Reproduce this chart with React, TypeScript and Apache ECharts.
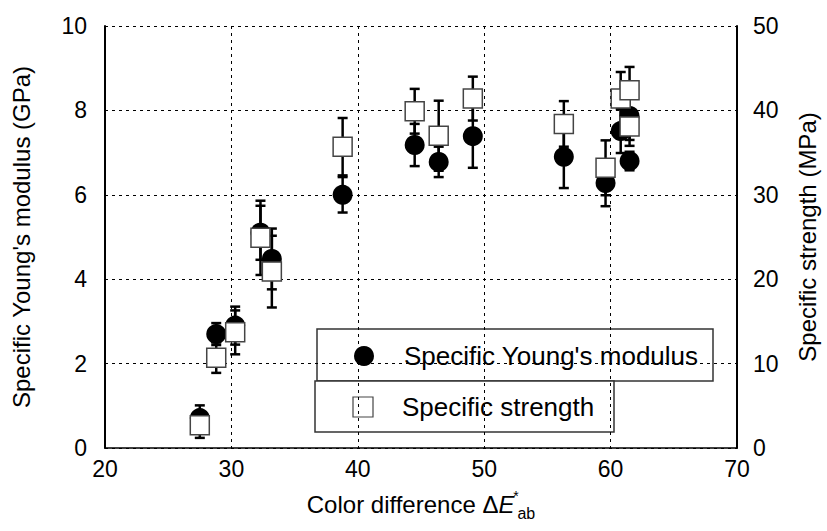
import React, { useEffect, useRef } from "react";
import * as echarts from "echarts";

// Color difference (ΔE*ab) for each measured specimen
const modulusX = [27.5, 28.8, 30.3, 32.3, 33.2, 38.8, 44.5, 46.4, 49.1, 56.3, 59.6, 60.8, 61.5, 61.5];
// Specific Young's modulus (GPa)
const modulusY = [0.71, 2.7, 2.9, 5.1, 4.48, 6.0, 7.18, 6.78, 7.39, 6.9, 6.28, 7.51, 7.87, 6.8];
const modulusErr = [0.3, 0.26, 0.45, 0.64, 0.72, 0.42, 0.5, 0.36, 0.75, 0.74, 0.55, 0.52, 0.71, 0.22];

const strengthX = [27.5, 28.8, 30.3, 32.3, 33.2, 38.8, 44.5, 46.4, 49.1, 56.3, 59.6, 60.8, 61.5, 61.5];
// Specific strength (MPa)
const strengthY = [2.7, 10.7, 13.7, 24.9, 20.9, 35.7, 39.9, 37.0, 41.4, 38.4, 33.2, 41.4, 42.4, 38.1];
const strengthErr = [1.5, 1.8, 2.6, 4.4, 4.25, 3.4, 2.65, 4.15, 2.6, 2.7, 3.25, 3.15, 2.75, 1.6];

const xTicks = { min: 20, max: 70, interval: 10 };
const yLeftTicks = { min: 0, max: 10, interval: 2 };
const yRightTicks = { min: 0, max: 50, interval: 10 };

const FONT = "'Liberation Sans', Arial, sans-serif";

function errorRender(params: any, api: any) {
  const x = api.value(0);
  const lo = api.value(1);
  const hi = api.value(2);
  const top = api.coord([x, hi]);
  const bot = api.coord([x, lo]);
  const cw = 5;
  const style = { stroke: "#000", lineWidth: 2.5 };
  return {
    type: "group",
    children: [
      { type: "line", shape: { x1: top[0], y1: top[1], x2: bot[0], y2: bot[1] }, style },
      { type: "line", shape: { x1: top[0] - cw, y1: top[1], x2: top[0] + cw, y2: top[1] }, style },
      { type: "line", shape: { x1: bot[0] - cw, y1: bot[1], x2: bot[0] + cw, y2: bot[1] }, style },
    ],
  };
}

export default function App() {
  const ref = useRef<HTMLDivElement>(null);
  useEffect(() => {
    if (!ref.current) return;
    const chart = echarts.init(ref.current, null, { renderer: "svg" });
    const modulusPts = modulusX.map((x, i) => [x, modulusY[i]]);
    const strengthPts = strengthX.map((x, i) => [x, strengthY[i]]);
    const modulusBars = modulusX.map((x, i) => [x, modulusY[i] - modulusErr[i], modulusY[i] + modulusErr[i]]);
    const strengthBars = strengthX.map((x, i) => [x, strengthY[i] - strengthErr[i], strengthY[i] + strengthErr[i]]);
    const gridLine = { show: true, lineStyle: { color: "#000", width: 1, type: [3, 4] as any } };
    chart.setOption({
      animation: false,
      backgroundColor: "#fff",
      textStyle: { fontFamily: FONT },
      grid: { left: 105, right: 87, top: 26, bottom: 83, containLabel: false },
      xAxis: {
        type: "value",
        ...xTicks,
        axisLine: { show: true, onZero: false, lineStyle: { color: "#000", width: 1.5 } },
        axisTick: { show: false },
        splitLine: gridLine,
        axisLabel: { fontSize: 23, color: "#000", margin: 9, fontFamily: FONT },
        name: "{n|Color difference Δ}{e|E}{s|*}{b|ab}",
        nameLocation: "middle",
        nameGap: 39,
        nameTextStyle: {
          color: "#000",
          fontFamily: FONT,
          rich: {
            n: { fontSize: 24, color: "#000", fontFamily: FONT },
            e: { fontSize: 24, color: "#000", fontStyle: "italic", fontFamily: FONT },
            s: { fontSize: 14, color: "#000", fontFamily: FONT, padding: [0, 0, 16, 0], width: 3 },
            b: { fontSize: 16, color: "#000", fontFamily: FONT, padding: [18, 0, 0, 0] },
          },
        },
      },
      yAxis: [
        {
          type: "value",
          ...yLeftTicks,
          position: "left",
          axisLine: { show: true, lineStyle: { color: "#000", width: 2 } },
          axisTick: { show: false },
          splitLine: gridLine,
          axisLabel: { fontSize: 23, color: "#000", margin: 18, fontFamily: FONT },
          name: "Specific Young's modulus (GPa)",
          nameLocation: "middle",
          nameRotate: 90,
          nameGap: 72,
          nameTextStyle: { fontSize: 24, color: "#000", fontFamily: FONT },
        },
        {
          type: "value",
          ...yRightTicks,
          position: "right",
          axisLine: { show: true, lineStyle: { color: "#000", width: 2 } },
          axisTick: { show: false },
          splitLine: { show: false },
          axisLabel: { fontSize: 23, color: "#000", margin: 16, fontFamily: FONT },
          name: "Specific strength (MPa)",
          nameLocation: "middle",
          nameRotate: 90,
          nameGap: 58,
          nameTextStyle: { fontSize: 24, color: "#000", fontFamily: FONT },
        },
      ],
      series: [
        {
          type: "custom",
          name: "modulusErr",
          xAxisIndex: 0,
          yAxisIndex: 0,
          renderItem: errorRender,
          encode: { x: 0, y: [1, 2] },
          data: modulusBars,
          z: 1,
        },
        {
          type: "scatter",
          name: "Specific Young's modulus",
          yAxisIndex: 0,
          symbol: "circle",
          symbolSize: 20,
          itemStyle: { color: "#000", opacity: 1 },
          data: modulusPts,
          z: 2,
        },
        {
          type: "custom",
          name: "strengthErr",
          xAxisIndex: 0,
          yAxisIndex: 1,
          renderItem: errorRender,
          encode: { x: 0, y: [1, 2] },
          data: strengthBars,
          z: 3,
        },
        {
          type: "scatter",
          name: "Specific strength",
          yAxisIndex: 1,
          symbol: "rect",
          symbolSize: 19,
          itemStyle: { color: "#fff", borderColor: "#444", borderWidth: 1.5, opacity: 1 },
          data: strengthPts,
          z: 4,
        },
      ],
      graphic: [
        {
          type: "group",
          z: 100,
          children: [
            { type: "rect", shape: { x: 317, y: 329, width: 396, height: 52 }, style: { fill: "#fff", stroke: "#333", lineWidth: 1.5 } },
            { type: "circle", shape: { cx: 364, cy: 356, r: 10 }, style: { fill: "#000" } },
            { type: "text", x: 404, y: 356, style: { text: "Specific Young's modulus", fontSize: 26, fontFamily: FONT, fill: "#000", verticalAlign: "middle", align: "left" } },
            { type: "rect", shape: { x: 315, y: 381, width: 299, height: 51 }, style: { fill: "#fff", stroke: "#333", lineWidth: 1.5 } },
            { type: "rect", shape: { x: 353, y: 397, width: 20, height: 20 }, style: { fill: "#fff", stroke: "#444", lineWidth: 1.2 } },
            { type: "text", x: 402, y: 407, style: { text: "Specific strength", fontSize: 26, fontFamily: FONT, fill: "#000", verticalAlign: "middle", align: "left" } },
          ],
        },
      ],
    });
    return () => chart.dispose();
  }, []);
  return <div ref={ref} style={{ position: "fixed", left: 0, top: 0, width: 827, height: 531 }} />;
}
